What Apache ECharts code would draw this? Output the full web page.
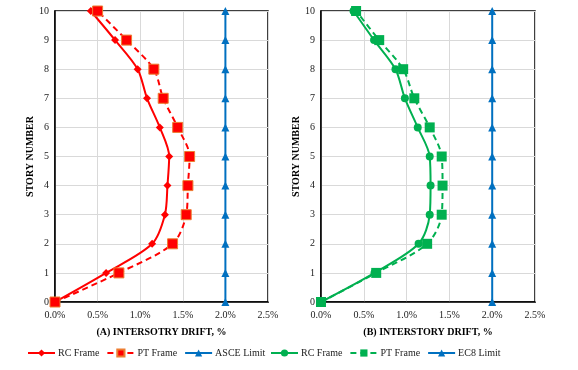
<!DOCTYPE html>
<html><head><meta charset="utf-8">
<script src="https://cdn.jsdelivr.net/npm/echarts@6/dist/echarts.min.js"></script>
<style>html,body{margin:0;padding:0;background:#fff}#c{width:578px;height:370px}</style>
</head><body><div id="c"></div>
<script>
const stories = [0,1,2,3,4,5,6,7,8,9,10];
const xTicks = ['0.0%','0.5%','1.0%','1.5%','2.0%','2.5%'];
const rcA = [0,0.60,1.14,1.29,1.32,1.34,1.23,1.08,0.97,0.705,0.42];
const ptA = [0,0.75,1.38,1.54,1.56,1.58,1.44,1.27,1.16,0.84,0.50];
const asce = [2,2,2,2,2,2,2,2,2,2,2];
const rcB = [0,0.625,1.14,1.27,1.28,1.27,1.13,0.98,0.87,0.62,0.38];
const ptB = [0,0.645,1.24,1.41,1.42,1.41,1.27,1.09,0.96,0.68,0.41];
const ec8 = [2,2,2,2,2,2,2,2,2,2,2];

const FONT = 'Liberation Serif';
const pairs = a => a.map((v,i)=>[v, stories[i]]);
function xAxis(idx, name){
  return {gridIndex: idx, type:'value', min:0, max:2.5, interval:0.5,
    name, nameLocation:'middle', nameGap:25,
    nameTextStyle:{fontFamily:FONT, fontWeight:'bold', fontSize:10, color:'#000'},
    axisLine:{show:true, onZero:false, lineStyle:{color:'#000', width:1.5}},
    axisTick:{show:false},
    axisLabel:{fontFamily:FONT, fontSize:10, color:'#222', margin:8,
      formatter: v => xTicks[Math.round(v/0.5)]},
    splitLine:{show:true, lineStyle:{color:'#d9d9d9', width:1}}};
}
function yAxis(idx){
  return {gridIndex: idx, type:'value', min:0, max:10, interval:1,
    name:'STORY NUMBER', nameLocation:'middle', nameGap:19, nameRotate:90,
    nameTextStyle:{fontFamily:FONT, fontWeight:'bold', fontSize:10, color:'#000'},
    axisLine:{show:true, onZero:false, lineStyle:{color:'#000', width:1.5}},
    axisTick:{show:false},
    axisLabel:{fontFamily:FONT, fontSize:10, color:'#222', margin:6},
    splitLine:{show:true, lineStyle:{color:'#d9d9d9', width:1}}};
}
function ser(name, data, gi, color, symbol, size, dashed, borderColor){
  return {name, type:'line', xAxisIndex:gi, yAxisIndex:gi, data:pairs(data),
    smooth: 0.3, symbol, symbolSize:size, showSymbol:true,
    lineStyle:{color, width:2, type: dashed ? [6,4] : 'solid'},
    itemStyle:{color, borderColor: borderColor || color, borderWidth: borderColor?1:0},
    emphasis:{disabled:true}, z: 3};
}
const strip = n => n.replace(/\s*\[[AB]\]$/, '');
const legendCommon = {bottom: 12, padding: 0, itemWidth: 27, itemHeight: 9, itemGap: 7,
  textStyle:{fontFamily:FONT, fontSize:10, color:'#222', padding:[0,0,0,-2]}, formatter: strip};
const chart = echarts.init(document.getElementById('c'), null, {renderer:'canvas'});
chart.setOption({
  animation:false,
  grid:[
    {left:55, right:310, top:11, bottom:68, show:true, borderColor:'#000', borderWidth:1.5},
    {left:321, right:43, top:11, bottom:68, show:true, borderColor:'#000', borderWidth:1.5}
  ],
  xAxis:[xAxis(0,'(A) INTERSOTRY DRIFT, %'), xAxis(1,'(B) INTERSTORY DRIFT, %')],
  yAxis:[yAxis(0), yAxis(1)],
  legend:[
    Object.assign({left:27, data:['RC Frame [A]','PT Frame [A]','ASCE Limit']}, legendCommon),
    Object.assign({left:270, data:['RC Frame [B]','PT Frame [B]','EC8 Limit']}, legendCommon)
  ],
  series:[
    ser('RC Frame [A]', rcA, 0, '#ff0000', 'diamond', 8, false),
    ser('PT Frame [A]', ptA, 0, '#ff0000', 'rect', 10, true, '#ed7d31'),
    ser('ASCE Limit', asce, 0, '#0070c0', 'triangle', 8, false),
    ser('RC Frame [B]', rcB, 1, '#00b050', 'circle', 8, false),
    ser('PT Frame [B]', ptB, 1, '#00b050', 'rect', 10, true),
    ser('EC8 Limit', ec8, 1, '#0070c0', 'triangle', 8, false)
  ]
});
</script></body></html>
